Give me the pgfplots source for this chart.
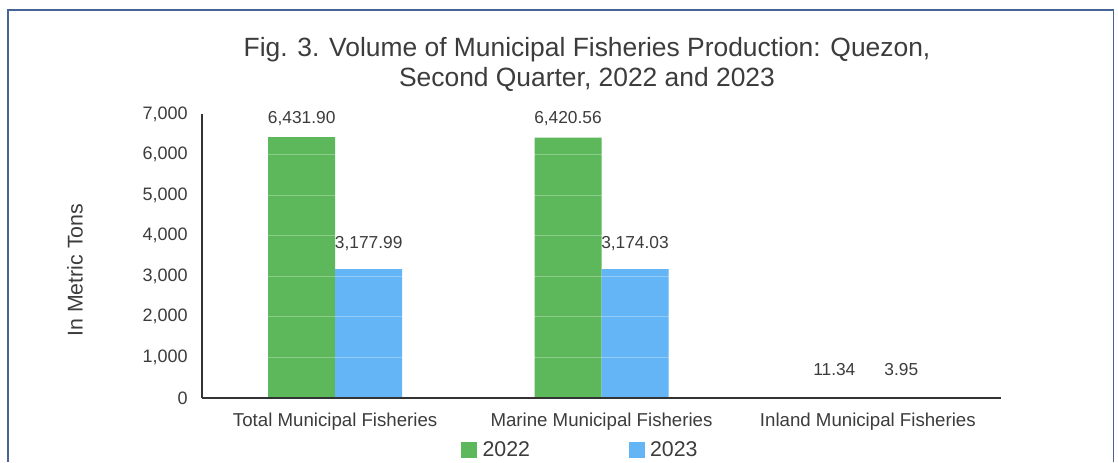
\documentclass[border=0pt]{standalone}
\usepackage{pgfplots}
\pgfplotsset{compat=1.18}
\usepackage{fontspec}
\setmainfont{Liberation Sans}
\definecolor{cgreen}{RGB}{92,184,90}
\definecolor{cblue}{RGB}{99,181,246}
\definecolor{ctext}{RGB}{60,60,60}
\definecolor{cframe}{RGB}{70,100,150}
\begin{document}
\begin{tikzpicture}
\useasboundingbox (0,0) rectangle (838.5pt,346.5pt);
\fill[white] (0,0) rectangle (838.5pt,346.5pt);
\draw[cframe, line width=1.2pt] (6pt,0) -- (6pt,339pt) -- (835pt,339pt) -- (835pt,0);
\node[anchor=base, font=\fontsize{19.8}{23}\selectfont, text=ctext, inner sep=0pt] at (440.25pt,304.5pt) {Fig. 3. Volume of Municipal Fisheries Production: Quezon,};
\node[anchor=base, font=\fontsize{19.8}{23}\selectfont, text=ctext, inner sep=0pt] at (440.25pt,282pt) {Second Quarter, 2022 and 2023};
\begin{axis}[
  at={(151.5pt,48pt)}, anchor=south west,
  scale only axis, width=599.25pt, height=213pt,
  xmin=-0.5, xmax=2.5, ymin=0, ymax=7000,
  ybar=0pt, bar width=50.25pt,
  axis x line*=bottom, axis y line*=left,
  axis line style={-, line width=1pt, draw=black!80},
  major tick length=0pt,
  xtick={0,1,2},
  xticklabels={Total Municipal Fisheries, Marine Municipal Fisheries, Inland Municipal Fisheries},
  ytick={0,1000,...,7000},
  ymajorgrids, grid style={white, opacity=0.3, line width=0.6pt},
  axis on top,
  xticklabel style={anchor=north, inner sep=0pt, yshift=-11pt, font=\fontsize{14}{16}\selectfont, text=ctext},
  yticklabel style={anchor=east, inner sep=0pt, xshift=-10.5pt, font=\fontsize{13.5}{16}\selectfont, text=ctext, /pgf/number format/.cd, fixed, 1000 sep={,}, assume math mode=true},
  ylabel={In Metric Tons},
  ylabel style={at={(axis description cs:-0.159,0.45)}, anchor=center, font=\fontsize{16}{19}\selectfont, text=ctext},
  nodes near coords={\pgfmathprintnumber[fixed, fixed zerofill, precision=2, 1000 sep={,}, assume math mode=true]{\pgfplotspointmeta}},
  nodes near coords style={font=\fontsize{13}{15}\selectfont, text=ctext, anchor=center, inner sep=0pt, yshift=\off pt},
  visualization depends on={value \thisrow{off} \as \off},
  legend style={at={(axis description cs:0.474,-0.183)}, anchor=center, draw=none, fill=none, font=\fontsize{16}{19}\selectfont, text=ctext, legend columns=2},
]
\addplot[fill=cgreen, draw=none, legend image code/.code={\fill[cgreen] (0pt,-6pt) rectangle (12pt,6pt);}] table[x=x, y=y] {
x y off
0 6431.90 14.25
1 6420.56 14.25
2 11.34 21
};
\addlegendentry{\hspace{2pt}2022\rule{72pt}{0pt}}
\addplot[fill=cblue, draw=none, legend image code/.code={\fill[cblue] (0pt,-6pt) rectangle (12pt,6pt);}] table[x=x, y=y] {
x y off
0 3177.99 19.5
1 3174.03 19.5
2 3.95 21
};
\addlegendentry{\hspace{2pt}2023}
\end{axis}
\end{tikzpicture}
\end{document}
